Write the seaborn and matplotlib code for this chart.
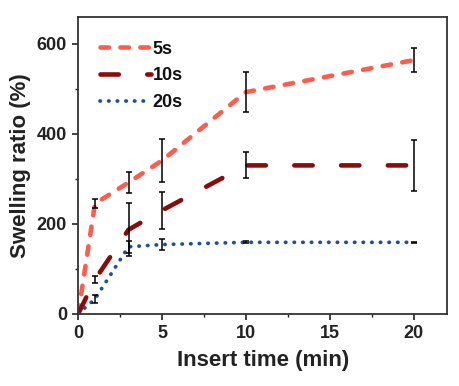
import numpy as np
import pandas as pd
import matplotlib
matplotlib.use("Agg")
import matplotlib.pyplot as plt
import seaborn as sns
from matplotlib.ticker import MultipleLocator

time = [0, 1, 3, 5, 10, 20]
series = ["5s", "10s", "20s"]
swell_5s = [0, 245, 292, 341, 493, 564]
err_5s = [0, 10, 24, 47, 44, 26]
swell_10s = [0, 76, 187, 230, 330, 330]
err_10s = [0, 8, 59, 41, 29, 57]
swell_20s = [0, 33, 149, 154, 159, 159]
err_20s = [0, 9, 14, 13, 2, 1]

colors = {"5s": "#ff5c4d", "10s": "#8b0a0a", "20s": "#1c4f9c"}
dashes = {"5s": (1.85, 2.5), "10s": (4.0, 6.2), "20s": (0.1, 2.2)}

rows = []
for s, ys in zip(series, [swell_5s, swell_10s, swell_20s]):
    for t, y in zip(time, ys):
        rows.append({"time": t, "swell": y, "series": s})
df = pd.DataFrame(rows)

sns.set_theme(style="ticks")
plt.rcParams["font.family"] = ["Liberation Sans", "DejaVu Sans"]
plt.rcParams["font.weight"] = "bold"
plt.rcParams["lines.dash_capstyle"] = "round"

fig = plt.figure(figsize=(4.6, 3.86), dpi=100)
ax = fig.add_axes([0.17, 0.187, 0.802, 0.769])

sns.lineplot(data=df, x="time", y="swell", hue="series", style="series",
             palette=colors, dashes=dashes, linewidth=3.3, ax=ax,
             hue_order=series, style_order=series)
ax.lines[2].set_linewidth(2.7)

for ys, es in zip([swell_5s, swell_10s, swell_20s], [err_5s, err_10s, err_20s]):
    ax.errorbar(time[1:], ys[1:], yerr=es[1:], fmt="none", ecolor="black",
                elinewidth=1.1, capsize=2.5, capthick=1.1, zorder=5)

ax.set_xlim(0, 22)
ax.set_ylim(0, 660)
ax.set_xticks([0, 5, 10, 15, 20])
ax.set_yticks([0, 200, 400, 600])
ax.xaxis.set_minor_locator(MultipleLocator(2.5))
ax.yaxis.set_minor_locator(MultipleLocator(100))
ax.tick_params(axis="both", which="major", labelsize=13, length=4, width=1.2,
               direction="out", pad=4, colors="#222222")
ax.tick_params(axis="both", which="minor", length=2.5, width=1.0, direction="out",
               colors="#222222")
for lab in ax.get_xticklabels() + ax.get_yticklabels():
    lab.set_fontweight("bold")
for sp in ax.spines.values():
    sp.set_linewidth(1.3)
    sp.set_color("#333333")

ax.set_xlabel("Insert time (min)", fontsize=16, fontweight="bold", labelpad=6,
              color="#222222")
ax.set_ylabel("Swelling ratio (%)", fontsize=16, fontweight="bold", labelpad=4,
              color="#222222")

leg = ax.legend(loc="upper left", bbox_to_anchor=(0.04, 0.945), frameon=False,
                fontsize=13, handlelength=2.8, borderaxespad=0.0,
                labelspacing=0.55, handletextpad=0.1)
for t in leg.get_texts():
    t.set_fontweight("bold")
    t.set_color("#111111")
leg.get_lines()[2].set_linewidth(2.7)

fig.savefig("out.png", dpi=100)
